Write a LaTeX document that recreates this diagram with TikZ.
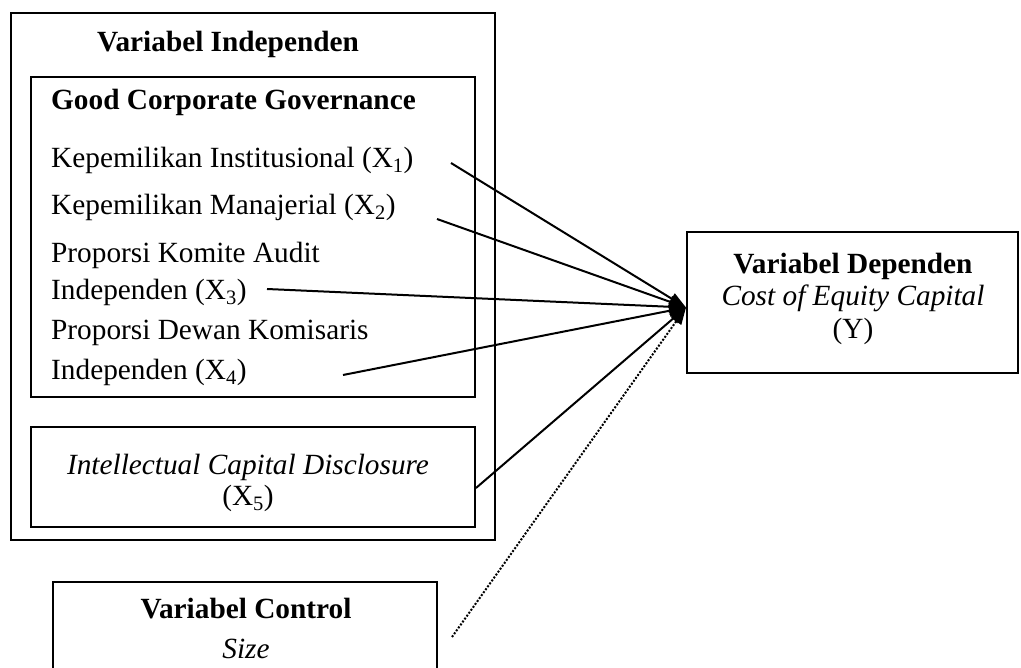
\documentclass[tikz,border=0pt]{standalone}
\usepackage{fontspec}
\setmainfont{Liberation Serif}
\usetikzlibrary{arrows.meta}

\tikzset{
  box/.style={draw, line width=2pt, inner sep=0pt},
  txt/.style={inner sep=0pt, font=\fontsize{29.3}{37}\selectfont},
  link/.style={line width=2pt, -{Triangle[length=17pt,width=12pt]}}
}

\begin{document}
\begin{tikzpicture}[x=1pt,y=-1pt]
\useasboundingbox (0,0) rectangle (1021,668);
\clip (0,0) rectangle (1021,668);
% boxes
\node[box, minimum width=484pt, minimum height=527pt] (indep) at (253,276.5) {};
\node[box, minimum width=444pt, minimum height=320pt] (gcg) at (253,237) {};
\node[box, minimum width=444pt, minimum height=100pt] (icd) at (253,477) {};
\node[box, minimum width=331pt, minimum height=141pt] (dep) at (852.5,302.5) {};
\node[box, minimum width=384pt, minimum height=130pt] (ctrl) at (245,647) {};
% texts
\node[txt] (indeptitle) at (228,44) {\bfseries Variabel Independen};
\node[txt, anchor=west] (gcgtitle) at (51,102) {\bfseries Good Corporate Governance};
\node[txt, anchor=west] (x1) at (51,160) {Kepemilikan Institusional (X\textsubscript{1})};
\node[txt, anchor=west] (x2) at (51,207) {Kepemilikan Manajerial (X\textsubscript{2})};
\node[txt, anchor=west, align=left] (x3) at (51,274) {Proporsi Komite Audit\\Independen (X\textsubscript{3})};
\node[txt, anchor=west, align=left] (x4) at (51,353) {Proporsi Dewan Komisaris\\[3pt]Independen (X\textsubscript{4})};
\node[txt, align=center, font=\fontsize{29.3}{31}\selectfont] (x5) at (248,483)
  {{\itshape Intellectual Capital Disclosure}\\(X\textsubscript{5})};
\node[txt, align=center, font=\fontsize{29.3}{32.5}\selectfont] (y) at (853,298.5)
  {{\bfseries Variabel Dependen}\\{\itshape Cost of Equity Capital}\\(Y)};
\node[txt, align=center, font=\fontsize{29.3}{40}\selectfont] (size) at (246,628)
  {{\bfseries Variabel Control}\\{\itshape Size}};
% arrows
\coordinate (s1) at (451,163);
\coordinate (s2) at (437,219);
\coordinate (s3) at (267,289);
\coordinate (s4) at (343,375);
\coordinate (s5) at (icd.east |- 0,488);
\coordinate (s6) at (452,637);
\coordinate (tip) at ([yshift=-5pt]dep.west);
\foreach \s in {s1,s2,s3,s4,s5}
  \draw[link] (\s) -- (tip);
\draw[link, line width=2pt, dash pattern=on 2pt off 1.6pt] (s6) -- (tip);
\end{tikzpicture}
\end{document}
